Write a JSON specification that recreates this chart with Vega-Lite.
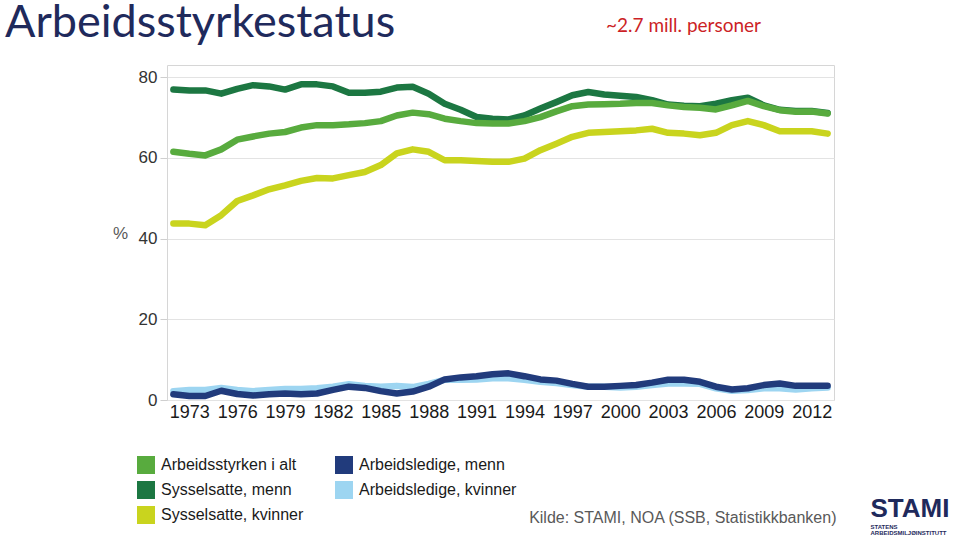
{
  "$schema": "https://vega.github.io/schema/vega-lite/v6.json",
  "width": 667,
  "height": 335,
  "autosize": "none",
  "padding": {"left": 167, "top": 65, "right": 126, "bottom": 136},
  "background": "white",
  "title": {
    "text": "Arbeidsstyrkestatus",
    "anchor": "start",
    "frame": "group",
    "font": "Lato",
    "fontSize": 45,
    "fontWeight": "normal",
    "color": "#1F2A5C",
    "baseline": "alphabetic",
    "offset": 0,
    "dx": -162,
    "dy": 66
  },
  "data": {
    "values": [
      {"year": 1972, "series": "Arbeidsstyrken i alt", "pct": 61.5},
      {"year": 1973, "series": "Arbeidsstyrken i alt", "pct": 61.0},
      {"year": 1974, "series": "Arbeidsstyrken i alt", "pct": 60.6},
      {"year": 1975, "series": "Arbeidsstyrken i alt", "pct": 62.1},
      {"year": 1976, "series": "Arbeidsstyrken i alt", "pct": 64.5},
      {"year": 1977, "series": "Arbeidsstyrken i alt", "pct": 65.3},
      {"year": 1978, "series": "Arbeidsstyrken i alt", "pct": 66.0},
      {"year": 1979, "series": "Arbeidsstyrken i alt", "pct": 66.4},
      {"year": 1980, "series": "Arbeidsstyrken i alt", "pct": 67.5},
      {"year": 1981, "series": "Arbeidsstyrken i alt", "pct": 68.1},
      {"year": 1982, "series": "Arbeidsstyrken i alt", "pct": 68.1},
      {"year": 1983, "series": "Arbeidsstyrken i alt", "pct": 68.3},
      {"year": 1984, "series": "Arbeidsstyrken i alt", "pct": 68.6},
      {"year": 1985, "series": "Arbeidsstyrken i alt", "pct": 69.1},
      {"year": 1986, "series": "Arbeidsstyrken i alt", "pct": 70.5},
      {"year": 1987, "series": "Arbeidsstyrken i alt", "pct": 71.2},
      {"year": 1988, "series": "Arbeidsstyrken i alt", "pct": 70.8},
      {"year": 1989, "series": "Arbeidsstyrken i alt", "pct": 69.7},
      {"year": 1990, "series": "Arbeidsstyrken i alt", "pct": 69.1},
      {"year": 1991, "series": "Arbeidsstyrken i alt", "pct": 68.6},
      {"year": 1992, "series": "Arbeidsstyrken i alt", "pct": 68.5},
      {"year": 1993, "series": "Arbeidsstyrken i alt", "pct": 68.5},
      {"year": 1994, "series": "Arbeidsstyrken i alt", "pct": 69.1},
      {"year": 1995, "series": "Arbeidsstyrken i alt", "pct": 70.1},
      {"year": 1996, "series": "Arbeidsstyrken i alt", "pct": 71.5},
      {"year": 1997, "series": "Arbeidsstyrken i alt", "pct": 72.8},
      {"year": 1998, "series": "Arbeidsstyrken i alt", "pct": 73.2},
      {"year": 1999, "series": "Arbeidsstyrken i alt", "pct": 73.3},
      {"year": 2000, "series": "Arbeidsstyrken i alt", "pct": 73.4},
      {"year": 2001, "series": "Arbeidsstyrken i alt", "pct": 73.6},
      {"year": 2002, "series": "Arbeidsstyrken i alt", "pct": 73.6},
      {"year": 2003, "series": "Arbeidsstyrken i alt", "pct": 73.0},
      {"year": 2004, "series": "Arbeidsstyrken i alt", "pct": 72.6},
      {"year": 2005, "series": "Arbeidsstyrken i alt", "pct": 72.4},
      {"year": 2006, "series": "Arbeidsstyrken i alt", "pct": 72.0},
      {"year": 2007, "series": "Arbeidsstyrken i alt", "pct": 73.0},
      {"year": 2008, "series": "Arbeidsstyrken i alt", "pct": 74.1},
      {"year": 2009, "series": "Arbeidsstyrken i alt", "pct": 72.8},
      {"year": 2010, "series": "Arbeidsstyrken i alt", "pct": 71.8},
      {"year": 2011, "series": "Arbeidsstyrken i alt", "pct": 71.4},
      {"year": 2012, "series": "Arbeidsstyrken i alt", "pct": 71.5},
      {"year": 2013, "series": "Arbeidsstyrken i alt", "pct": 71.0},

      {"year": 1972, "series": "Sysselsatte, menn", "pct": 76.9},
      {"year": 1973, "series": "Sysselsatte, menn", "pct": 76.7},
      {"year": 1974, "series": "Sysselsatte, menn", "pct": 76.7},
      {"year": 1975, "series": "Sysselsatte, menn", "pct": 75.9},
      {"year": 1976, "series": "Sysselsatte, menn", "pct": 77.1},
      {"year": 1977, "series": "Sysselsatte, menn", "pct": 78.0},
      {"year": 1978, "series": "Sysselsatte, menn", "pct": 77.7},
      {"year": 1979, "series": "Sysselsatte, menn", "pct": 76.9},
      {"year": 1980, "series": "Sysselsatte, menn", "pct": 78.2},
      {"year": 1981, "series": "Sysselsatte, menn", "pct": 78.2},
      {"year": 1982, "series": "Sysselsatte, menn", "pct": 77.7},
      {"year": 1983, "series": "Sysselsatte, menn", "pct": 76.1},
      {"year": 1984, "series": "Sysselsatte, menn", "pct": 76.1},
      {"year": 1985, "series": "Sysselsatte, menn", "pct": 76.4},
      {"year": 1986, "series": "Sysselsatte, menn", "pct": 77.4},
      {"year": 1987, "series": "Sysselsatte, menn", "pct": 77.6},
      {"year": 1988, "series": "Sysselsatte, menn", "pct": 75.9},
      {"year": 1989, "series": "Sysselsatte, menn", "pct": 73.4},
      {"year": 1990, "series": "Sysselsatte, menn", "pct": 71.9},
      {"year": 1991, "series": "Sysselsatte, menn", "pct": 70.1},
      {"year": 1992, "series": "Sysselsatte, menn", "pct": 69.7},
      {"year": 1993, "series": "Sysselsatte, menn", "pct": 69.5},
      {"year": 1994, "series": "Sysselsatte, menn", "pct": 70.5},
      {"year": 1995, "series": "Sysselsatte, menn", "pct": 72.2},
      {"year": 1996, "series": "Sysselsatte, menn", "pct": 73.8},
      {"year": 1997, "series": "Sysselsatte, menn", "pct": 75.5},
      {"year": 1998, "series": "Sysselsatte, menn", "pct": 76.3},
      {"year": 1999, "series": "Sysselsatte, menn", "pct": 75.7},
      {"year": 2000, "series": "Sysselsatte, menn", "pct": 75.4},
      {"year": 2001, "series": "Sysselsatte, menn", "pct": 75.1},
      {"year": 2002, "series": "Sysselsatte, menn", "pct": 74.3},
      {"year": 2003, "series": "Sysselsatte, menn", "pct": 73.2},
      {"year": 2004, "series": "Sysselsatte, menn", "pct": 72.9},
      {"year": 2005, "series": "Sysselsatte, menn", "pct": 72.8},
      {"year": 2006, "series": "Sysselsatte, menn", "pct": 73.4},
      {"year": 2007, "series": "Sysselsatte, menn", "pct": 74.3},
      {"year": 2008, "series": "Sysselsatte, menn", "pct": 74.9},
      {"year": 2009, "series": "Sysselsatte, menn", "pct": 73.0},
      {"year": 2010, "series": "Sysselsatte, menn", "pct": 71.9},
      {"year": 2011, "series": "Sysselsatte, menn", "pct": 71.6},
      {"year": 2012, "series": "Sysselsatte, menn", "pct": 71.6},
      {"year": 2013, "series": "Sysselsatte, menn", "pct": 71.1},

      {"year": 1972, "series": "Sysselsatte, kvinner", "pct": 43.7},
      {"year": 1973, "series": "Sysselsatte, kvinner", "pct": 43.7},
      {"year": 1974, "series": "Sysselsatte, kvinner", "pct": 43.3},
      {"year": 1975, "series": "Sysselsatte, kvinner", "pct": 45.8},
      {"year": 1976, "series": "Sysselsatte, kvinner", "pct": 49.3},
      {"year": 1977, "series": "Sysselsatte, kvinner", "pct": 50.7},
      {"year": 1978, "series": "Sysselsatte, kvinner", "pct": 52.2},
      {"year": 1979, "series": "Sysselsatte, kvinner", "pct": 53.2},
      {"year": 1980, "series": "Sysselsatte, kvinner", "pct": 54.3},
      {"year": 1981, "series": "Sysselsatte, kvinner", "pct": 55.0},
      {"year": 1982, "series": "Sysselsatte, kvinner", "pct": 54.9},
      {"year": 1983, "series": "Sysselsatte, kvinner", "pct": 55.7},
      {"year": 1984, "series": "Sysselsatte, kvinner", "pct": 56.5},
      {"year": 1985, "series": "Sysselsatte, kvinner", "pct": 58.2},
      {"year": 1986, "series": "Sysselsatte, kvinner", "pct": 61.1},
      {"year": 1987, "series": "Sysselsatte, kvinner", "pct": 62.1},
      {"year": 1988, "series": "Sysselsatte, kvinner", "pct": 61.5},
      {"year": 1989, "series": "Sysselsatte, kvinner", "pct": 59.4},
      {"year": 1990, "series": "Sysselsatte, kvinner", "pct": 59.4},
      {"year": 1991, "series": "Sysselsatte, kvinner", "pct": 59.2},
      {"year": 1992, "series": "Sysselsatte, kvinner", "pct": 59.0},
      {"year": 1993, "series": "Sysselsatte, kvinner", "pct": 59.0},
      {"year": 1994, "series": "Sysselsatte, kvinner", "pct": 59.8},
      {"year": 1995, "series": "Sysselsatte, kvinner", "pct": 61.9},
      {"year": 1996, "series": "Sysselsatte, kvinner", "pct": 63.5},
      {"year": 1997, "series": "Sysselsatte, kvinner", "pct": 65.2},
      {"year": 1998, "series": "Sysselsatte, kvinner", "pct": 66.2},
      {"year": 1999, "series": "Sysselsatte, kvinner", "pct": 66.4},
      {"year": 2000, "series": "Sysselsatte, kvinner", "pct": 66.6},
      {"year": 2001, "series": "Sysselsatte, kvinner", "pct": 66.8},
      {"year": 2002, "series": "Sysselsatte, kvinner", "pct": 67.2},
      {"year": 2003, "series": "Sysselsatte, kvinner", "pct": 66.2},
      {"year": 2004, "series": "Sysselsatte, kvinner", "pct": 66.0},
      {"year": 2005, "series": "Sysselsatte, kvinner", "pct": 65.6},
      {"year": 2006, "series": "Sysselsatte, kvinner", "pct": 66.2},
      {"year": 2007, "series": "Sysselsatte, kvinner", "pct": 68.1},
      {"year": 2008, "series": "Sysselsatte, kvinner", "pct": 69.1},
      {"year": 2009, "series": "Sysselsatte, kvinner", "pct": 68.1},
      {"year": 2010, "series": "Sysselsatte, kvinner", "pct": 66.6},
      {"year": 2011, "series": "Sysselsatte, kvinner", "pct": 66.6},
      {"year": 2012, "series": "Sysselsatte, kvinner", "pct": 66.6},
      {"year": 2013, "series": "Sysselsatte, kvinner", "pct": 66.0},

      {"year": 1972, "series": "Arbeidsledige, menn", "pct": 1.4},
      {"year": 1973, "series": "Arbeidsledige, menn", "pct": 1.0},
      {"year": 1974, "series": "Arbeidsledige, menn", "pct": 1.0},
      {"year": 1975, "series": "Arbeidsledige, menn", "pct": 2.3},
      {"year": 1976, "series": "Arbeidsledige, menn", "pct": 1.5},
      {"year": 1977, "series": "Arbeidsledige, menn", "pct": 1.1},
      {"year": 1978, "series": "Arbeidsledige, menn", "pct": 1.4},
      {"year": 1979, "series": "Arbeidsledige, menn", "pct": 1.6},
      {"year": 1980, "series": "Arbeidsledige, menn", "pct": 1.4},
      {"year": 1981, "series": "Arbeidsledige, menn", "pct": 1.6},
      {"year": 1982, "series": "Arbeidsledige, menn", "pct": 2.5},
      {"year": 1983, "series": "Arbeidsledige, menn", "pct": 3.3},
      {"year": 1984, "series": "Arbeidsledige, menn", "pct": 3.0},
      {"year": 1985, "series": "Arbeidsledige, menn", "pct": 2.2},
      {"year": 1986, "series": "Arbeidsledige, menn", "pct": 1.6},
      {"year": 1987, "series": "Arbeidsledige, menn", "pct": 2.1},
      {"year": 1988, "series": "Arbeidsledige, menn", "pct": 3.3},
      {"year": 1989, "series": "Arbeidsledige, menn", "pct": 5.1},
      {"year": 1990, "series": "Arbeidsledige, menn", "pct": 5.6},
      {"year": 1991, "series": "Arbeidsledige, menn", "pct": 5.9},
      {"year": 1992, "series": "Arbeidsledige, menn", "pct": 6.4},
      {"year": 1993, "series": "Arbeidsledige, menn", "pct": 6.6},
      {"year": 1994, "series": "Arbeidsledige, menn", "pct": 5.9},
      {"year": 1995, "series": "Arbeidsledige, menn", "pct": 5.1},
      {"year": 1996, "series": "Arbeidsledige, menn", "pct": 4.8},
      {"year": 1997, "series": "Arbeidsledige, menn", "pct": 4.0},
      {"year": 1998, "series": "Arbeidsledige, menn", "pct": 3.3},
      {"year": 1999, "series": "Arbeidsledige, menn", "pct": 3.3},
      {"year": 2000, "series": "Arbeidsledige, menn", "pct": 3.5},
      {"year": 2001, "series": "Arbeidsledige, menn", "pct": 3.7},
      {"year": 2002, "series": "Arbeidsledige, menn", "pct": 4.3},
      {"year": 2003, "series": "Arbeidsledige, menn", "pct": 5.0},
      {"year": 2004, "series": "Arbeidsledige, menn", "pct": 5.0},
      {"year": 2005, "series": "Arbeidsledige, menn", "pct": 4.5},
      {"year": 2006, "series": "Arbeidsledige, menn", "pct": 3.3},
      {"year": 2007, "series": "Arbeidsledige, menn", "pct": 2.6},
      {"year": 2008, "series": "Arbeidsledige, menn", "pct": 2.9},
      {"year": 2009, "series": "Arbeidsledige, menn", "pct": 3.7},
      {"year": 2010, "series": "Arbeidsledige, menn", "pct": 4.1},
      {"year": 2011, "series": "Arbeidsledige, menn", "pct": 3.5},
      {"year": 2012, "series": "Arbeidsledige, menn", "pct": 3.5},
      {"year": 2013, "series": "Arbeidsledige, menn", "pct": 3.5},

      {"year": 1972, "series": "Arbeidsledige, kvinner", "pct": 2.2},
      {"year": 1973, "series": "Arbeidsledige, kvinner", "pct": 2.5},
      {"year": 1974, "series": "Arbeidsledige, kvinner", "pct": 2.5},
      {"year": 1975, "series": "Arbeidsledige, kvinner", "pct": 3.0},
      {"year": 1976, "series": "Arbeidsledige, kvinner", "pct": 2.5},
      {"year": 1977, "series": "Arbeidsledige, kvinner", "pct": 2.2},
      {"year": 1978, "series": "Arbeidsledige, kvinner", "pct": 2.5},
      {"year": 1979, "series": "Arbeidsledige, kvinner", "pct": 2.7},
      {"year": 1980, "series": "Arbeidsledige, kvinner", "pct": 2.7},
      {"year": 1981, "series": "Arbeidsledige, kvinner", "pct": 2.9},
      {"year": 1982, "series": "Arbeidsledige, kvinner", "pct": 3.3},
      {"year": 1983, "series": "Arbeidsledige, kvinner", "pct": 3.9},
      {"year": 1984, "series": "Arbeidsledige, kvinner", "pct": 3.5},
      {"year": 1985, "series": "Arbeidsledige, kvinner", "pct": 3.3},
      {"year": 1986, "series": "Arbeidsledige, kvinner", "pct": 3.5},
      {"year": 1987, "series": "Arbeidsledige, kvinner", "pct": 3.2},
      {"year": 1988, "series": "Arbeidsledige, kvinner", "pct": 4.0},
      {"year": 1989, "series": "Arbeidsledige, kvinner", "pct": 5.0},
      {"year": 1990, "series": "Arbeidsledige, kvinner", "pct": 5.0},
      {"year": 1991, "series": "Arbeidsledige, kvinner", "pct": 5.1},
      {"year": 1992, "series": "Arbeidsledige, kvinner", "pct": 5.4},
      {"year": 1993, "series": "Arbeidsledige, kvinner", "pct": 5.4},
      {"year": 1994, "series": "Arbeidsledige, kvinner", "pct": 5.0},
      {"year": 1995, "series": "Arbeidsledige, kvinner", "pct": 4.5},
      {"year": 1996, "series": "Arbeidsledige, kvinner", "pct": 4.2},
      {"year": 1997, "series": "Arbeidsledige, kvinner", "pct": 3.7},
      {"year": 1998, "series": "Arbeidsledige, kvinner", "pct": 3.3},
      {"year": 1999, "series": "Arbeidsledige, kvinner", "pct": 3.3},
      {"year": 2000, "series": "Arbeidsledige, kvinner", "pct": 3.1},
      {"year": 2001, "series": "Arbeidsledige, kvinner", "pct": 3.3},
      {"year": 2002, "series": "Arbeidsledige, kvinner", "pct": 3.7},
      {"year": 2003, "series": "Arbeidsledige, kvinner", "pct": 4.1},
      {"year": 2004, "series": "Arbeidsledige, kvinner", "pct": 4.1},
      {"year": 2005, "series": "Arbeidsledige, kvinner", "pct": 4.0},
      {"year": 2006, "series": "Arbeidsledige, kvinner", "pct": 2.9},
      {"year": 2007, "series": "Arbeidsledige, kvinner", "pct": 2.3},
      {"year": 2008, "series": "Arbeidsledige, kvinner", "pct": 2.5},
      {"year": 2009, "series": "Arbeidsledige, kvinner", "pct": 2.9},
      {"year": 2010, "series": "Arbeidsledige, kvinner", "pct": 2.9},
      {"year": 2011, "series": "Arbeidsledige, kvinner", "pct": 2.6},
      {"year": 2012, "series": "Arbeidsledige, kvinner", "pct": 2.9},
      {"year": 2013, "series": "Arbeidsledige, kvinner", "pct": 3.1}
    ]
  },
  "encoding": {
    "x": {"field": "year", "type": "quantitative", "scale": {"domain": [1971.6, 2013.4], "nice": false, "zero": false}},
    "y": {"field": "pct", "type": "quantitative", "scale": {"domain": [0, 83], "nice": false}},
    "color": {
      "field": "series",
      "type": "nominal",
      "scale": {
        "domain": ["Arbeidsstyrken i alt", "Sysselsatte, menn", "Sysselsatte, kvinner", "Arbeidsledige, menn", "Arbeidsledige, kvinner"],
        "range": ["#58AB3E", "#1C7742", "#C9D41E", "#213B7C", "#9DD5F1"]
      },
      "legend": {
        "orient": "none",
        "legendX": -30,
        "legendY": 391,
        "columns": 2,
        "title": null,
        "symbolType": "square",
        "symbolSize": 324,
        "symbolStrokeWidth": 0,
        "labelFont": "Liberation Sans",
        "labelFontSize": 16,
        "labelColor": "#1a1a1a",
        "labelOffset": 6,
        "labelLimit": 300,
        "rowPadding": 7,
        "columnPadding": 31,
        "padding": 0,
        "encode": {
          "symbols": {
            "update": {
              "fill": {"scale": "color", "field": "value"},
              "stroke": {"value": "transparent"},
              "opacity": {"value": 1}
            }
          }
        }
      }
    }
  },
  "layer": [
    {
      "transform": [{"filter": "datum.series === 'Arbeidsledige, kvinner'"}],
      "mark": {"type": "line", "strokeWidth": 6.5, "strokeCap": "round", "strokeJoin": "round"},
      "encoding": {
        "x": {
          "field": "year", "type": "quantitative",
          "axis": {
            "orient": "bottom",
            "values": [1973, 1976, 1979, 1982, 1985, 1988, 1991, 1994, 1997, 2000, 2003, 2006, 2009, 2012],
            "format": "d",
            "grid": false,
            "ticks": false,
            "domain": false,
            "labelFont": "Liberation Sans",
            "labelFontSize": 18,
            "labelColor": "#1a1a1a",
            "labelPadding": 3,
            "labelFlush": false,
            "labelOverlap": false,
            "title": "Kilde: STAMI, NOA (SSB, Statistikkbanken)",
            "titleFont": "Liberation Sans",
            "titleFontSize": 16,
            "titleFontWeight": "normal",
            "titleColor": "#595959",
            "titleAlign": "right",
            "titleBaseline": "middle",
            "titleX": 669,
            "titleY": 117
          }
        },
        "y": {
          "field": "pct", "type": "quantitative",
          "axis": {
            "orient": "left",
            "values": [0, 20, 40, 60, 80],
            "grid": true,
            "gridColor": "#e3e3e3",
            "gridWidth": 1,
            "domain": false,
            "ticks": true,
            "tickSize": 7,
            "tickColor": "#cfcfcf",
            "labelFont": "Liberation Sans",
            "labelFontSize": 17,
            "labelColor": "#333333",
            "labelPadding": 3,
            "title": "%",
            "titleAngle": 0,
            "titleFont": "Liberation Sans",
            "titleFontSize": 17,
            "titleFontWeight": "normal",
            "titleColor": "#595959",
            "titleAlign": "center",
            "titleBaseline": "middle",
            "titleX": -47,
            "titleY": 168
          }
        }
      }
    },
    {
      "transform": [{"filter": "datum.series === 'Arbeidsledige, menn'"}],
      "mark": {"type": "line", "strokeWidth": 6.5, "strokeCap": "round", "strokeJoin": "round"},
      "encoding": {
        "x": {
          "field": "year", "type": "quantitative",
          "axis": {
            "orient": "top",
            "labels": false, "ticks": false, "domain": false, "grid": false,
            "title": "~2.7 mill. personer",
            "titleFont": "Lato",
            "titleFontSize": 19,
            "titleFontWeight": "normal",
            "titleColor": "#CC1F26",
            "titleAlign": "center",
            "titleBaseline": "alphabetic",
            "titleX": 516,
            "titleY": -34
          }
        },
        "y": {
          "field": "pct", "type": "quantitative",
          "axis": {
            "orient": "right",
            "labels": false, "ticks": false, "domain": false, "grid": false,
            "title": "STAMI",
            "titleAngle": 0,
            "titleFont": "Liberation Sans",
            "titleFontSize": 26,
            "titleFontWeight": "bold",
            "titleColor": "#1F2A5C",
            "titleAlign": "left",
            "titleBaseline": "alphabetic",
            "titleX": 36,
            "titleY": 451
          }
        }
      }
    },
    {
      "transform": [{"filter": "datum.series === 'Sysselsatte, menn'"}],
      "mark": {"type": "line", "strokeWidth": 6.5, "strokeCap": "round", "strokeJoin": "round"},
      "encoding": {
        "x": {
          "field": "year", "type": "quantitative",
          "axis": {
            "orient": "bottom",
            "labels": false, "ticks": false, "domain": false, "grid": false,
            "title": ["STATENS", "ARBEIDSMILJØINSTITUTT"],
            "titleFont": "Liberation Sans",
            "titleFontSize": 6,
            "titleLineHeight": 6,
            "titleFontWeight": "bold",
            "titleColor": "#1F2A5C",
            "titleAlign": "left",
            "titleBaseline": "alphabetic",
            "titleX": 703,
            "titleY": 128.5
          }
        },
        "y": {"field": "pct", "type": "quantitative", "axis": null}
      }
    },
    {
      "transform": [{"filter": "datum.series === 'Arbeidsstyrken i alt'"}],
      "mark": {"type": "line", "strokeWidth": 6.5, "strokeCap": "round", "strokeJoin": "round"},
      "encoding": {
        "x": {"field": "year", "type": "quantitative", "axis": null},
        "y": {"field": "pct", "type": "quantitative", "axis": null}
      }
    },
    {
      "transform": [{"filter": "datum.series === 'Sysselsatte, kvinner'"}],
      "mark": {"type": "line", "strokeWidth": 6.5, "strokeCap": "round", "strokeJoin": "round"},
      "encoding": {
        "x": {"field": "year", "type": "quantitative", "axis": null},
        "y": {"field": "pct", "type": "quantitative", "axis": null}
      }
    }
  ],
  "resolve": {"axis": {"x": "independent", "y": "independent"}},
  "config": {
    "view": {"stroke": "#d6d6d6", "strokeWidth": 1},
    "font": "Liberation Sans"
  }
}
